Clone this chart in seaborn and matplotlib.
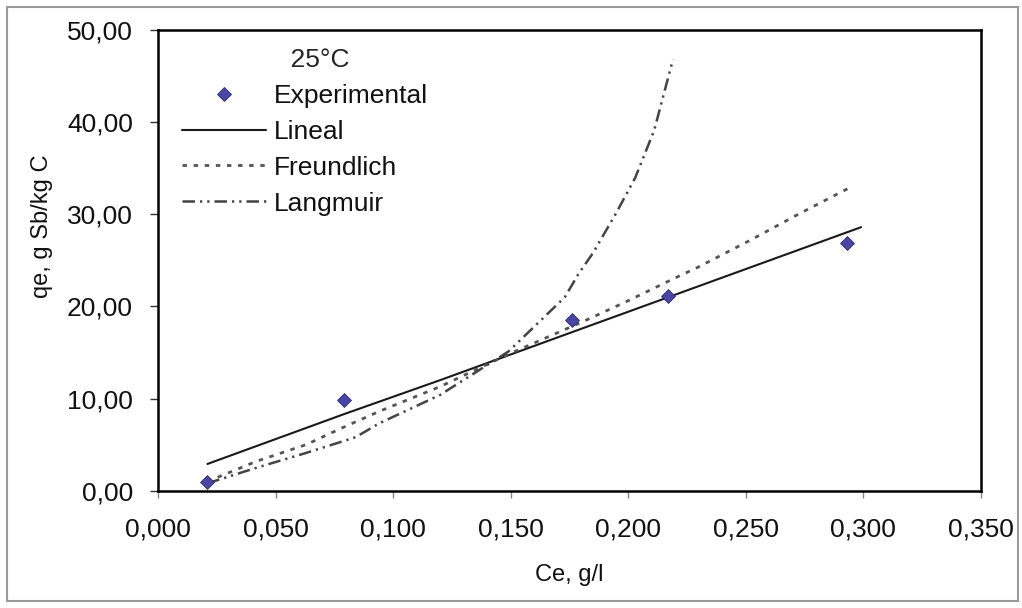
import matplotlib
matplotlib.use("Agg")
import matplotlib.pyplot as plt
from matplotlib.patches import Rectangle
from matplotlib.ticker import FuncFormatter
from matplotlib.lines import Line2D
import seaborn as sns
import pandas as pd

# ---- data ----
ce_exp = [0.021, 0.079, 0.176, 0.217, 0.293]
qe_exp = [0.9, 9.8, 18.5, 21.1, 26.9]

lineal_x = [0.021, 0.079, 0.120, 0.176, 0.217, 0.299]
lineal_y = [2.9, 8.3, 12.0, 17.2, 21.0, 28.6]

freund_x = [0.021, 0.042, 0.063, 0.079, 0.094, 0.120, 0.149, 0.182, 0.199,
            0.220, 0.230, 0.252, 0.273, 0.295]
freund_y = [1.0, 3.2, 5.0, 6.9, 8.6, 11.3, 14.8, 18.5, 20.5,
            23.1, 24.3, 27.2, 30.1, 33.0]

lang_x = [0.021, 0.042, 0.063, 0.084, 0.094, 0.120, 0.149, 0.173, 0.179,
          0.185, 0.195, 0.203, 0.211, 0.219]
lang_y = [0.8, 2.5, 4.1, 5.8, 7.3, 10.4, 15.1, 21.0, 23.6,
          25.8, 30.2, 34.0, 39.1, 46.8]

x_ticks = [0.0, 0.05, 0.10, 0.15, 0.20, 0.25, 0.30, 0.35]
y_ticks = [0, 10, 20, 30, 40, 50]

legend_title = "25°C"
labels = ["Experimental", "Lineal", "Freundlich", "Langmuir"]
xlabel = "Ce, g/l"
ylabel = "qe, g Sb/kg C"

# ---- style ----
sns.set_theme(style="white")
plt.rcParams["font.family"] = ["Liberation Sans", "DejaVu Sans"]

fig = plt.figure(figsize=(10.22, 6.08), dpi=100)
fig.patch.set_facecolor("white")
ax = fig.add_axes([158 / 1022, 1 - 490.7 / 608, (981 - 158) / 1022, (490.7 - 30) / 608])
ax.set_facecolor("white")

df_exp = pd.DataFrame({"Ce": ce_exp, "qe": qe_exp})
df_lin = pd.DataFrame({"Ce": lineal_x, "qe": lineal_y})
df_fr = pd.DataFrame({"Ce": freund_x, "qe": freund_y})
df_la = pd.DataFrame({"Ce": lang_x, "qe": lang_y})

lin_style = dict(color="#1a1a1a", lw=1.5, linestyle="-")
fr_style = dict(color="#555555", lw=2.0, linestyle=(0, (1.6, 2.4)))
la_style = dict(color="#444444", lw=1.8, linestyle=(0, (5.0, 2.0, 0.9, 2.0, 0.9, 2.0)))
mk_style = dict(marker="D", color="#4a46a6", edgecolor="#2c2a70", linewidth=0.6)

sns.lineplot(data=df_lin, x="Ce", y="qe", ax=ax, sort=False, estimator=None, **lin_style)
sns.lineplot(data=df_fr, x="Ce", y="qe", ax=ax, sort=False, estimator=None, **fr_style)
sns.lineplot(data=df_la, x="Ce", y="qe", ax=ax, sort=False, estimator=None, **la_style)
sns.scatterplot(data=df_exp, x="Ce", y="qe", ax=ax, s=50, zorder=5, **mk_style)

ax.set_xlim(0, 0.35)
ax.set_ylim(0, 50)
ax.set_xticks(x_ticks)
ax.set_yticks(y_ticks)
ax.xaxis.set_major_formatter(FuncFormatter(lambda v, p: f"{v:.3f}".replace(".", ",")))
ax.yaxis.set_major_formatter(FuncFormatter(lambda v, p: f"{v:.2f}".replace(".", ",")))

for s in ax.spines.values():
    s.set_color("black")
    s.set_linewidth(1.8)
    s.set_visible(True)

ax.tick_params(axis="both", which="major", labelsize=19, labelcolor="#111111")
ax.tick_params(axis="y", direction="out", length=6, width=1, color="#333333", pad=12, left=True)
ax.tick_params(axis="x", direction="out", length=5, width=1, color="#888888", pad=14, bottom=True)
ax.grid(False)

ax.set_xlabel(xlabel, fontsize=17, color="#111111")
ax.set_ylabel(ylabel, fontsize=17, color="#111111")
ax.xaxis.set_label_coords(0.5, -0.16)
ax.yaxis.set_label_coords(-0.128, 0.575)

handles = [
    Line2D([], [], linestyle="none", marker="D", markersize=7,
           markerfacecolor="#4a46a6", markeredgecolor="#2c2a70", markeredgewidth=0.6),
    Line2D([], [], **lin_style),
    Line2D([], [], **fr_style),
    Line2D([], [], **la_style),
]
leg = ax.legend(handles, labels, title="    " + legend_title, frameon=False, fontsize=19,
                title_fontsize=19, loc="upper left",
                bbox_to_anchor=(182 / 1022, 1 - 48 / 608), bbox_transform=fig.transFigure,
                handlelength=3.2, handletextpad=0.28, labelspacing=0.45,
                borderpad=0, borderaxespad=0)
for t in leg.get_texts():
    t.set_color("#111111")

fig.patches.append(Rectangle((7 / 1022, 7 / 608), (1018 - 7) / 1022, (601 - 7) / 608,
                             transform=fig.transFigure, fill=False,
                             edgecolor="#9a9a9a", linewidth=1.5))

fig.savefig("out.png", dpi=100)
